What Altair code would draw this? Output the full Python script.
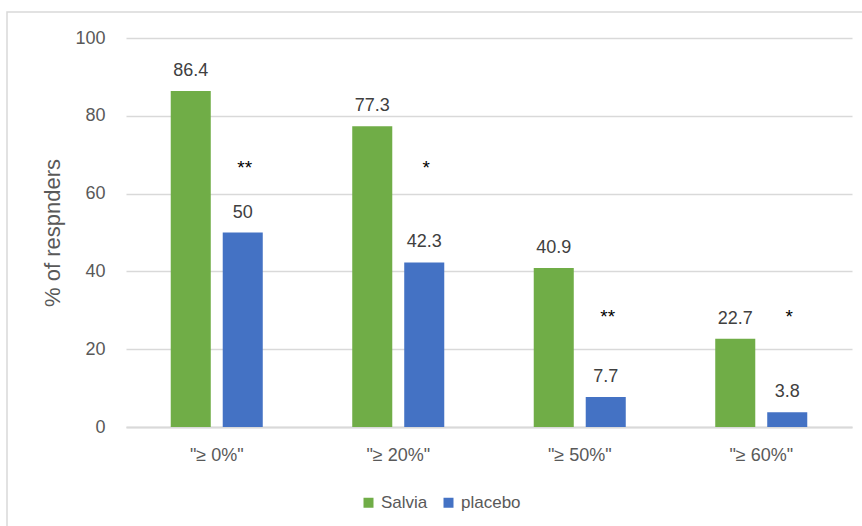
import altair as alt
import pandas as pd

categories = ['"≥ 0%"', '"≥ 20%"', '"≥ 50%"', '"≥ 60%"']
salvia = [86.4, 77.3, 40.9, 22.7]
placebo = [50, 42.3, 7.7, 3.8]
stars = ["**", "*", "**", "*"]
star_y = [66.5, 66.5, 28.2, 28.2]
groups = ["Salvia", "placebo"]
colors = ["#70AD47", "#4472C4"]

rows = []
for c, s, p in zip(categories, salvia, placebo):
    rows.append({"cat": c, "group": "Salvia", "value": s, "label": f"{s:g}"})
    rows.append({"cat": c, "group": "placebo", "value": p, "label": f"{p:g}"})
df = pd.DataFrame(rows)
sdf = pd.DataFrame({"cat": categories, "group": ["placebo"] * 4, "star": stars, "y": star_y})

FONT = "Liberation Sans"

xenc = alt.X("cat:N", sort=categories, title=None,
             scale=alt.Scale(paddingInner=0.493, paddingOuter=0.2465),
             axis=alt.Axis(labelAngle=0, labelFontSize=18, labelColor="#595959",
                           labelPadding=19, ticks=False, domainColor="#d9d9d9",
                           domainWidth=2, labelFont=FONT))
xoff = alt.XOffset("group:N", sort=groups,
                   scale=alt.Scale(paddingInner=0.23, paddingOuter=0))
yscale = alt.Scale(domain=[0, 100])

bars = alt.Chart(df).mark_bar().encode(
    x=xenc,
    xOffset=xoff,
    y=alt.Y("value:Q", scale=yscale, title="% of respnders",
            axis=alt.Axis(values=[0, 20, 40, 60, 80, 100], domain=False, ticks=False,
                          labelFontSize=18, labelColor="#595959", labelPadding=21,
                          gridColor="#d9d9d9", gridWidth=1.5,
                          titleFontSize=22, titleColor="#595959", titleFontWeight="normal",
                          titlePadding=10, titleFont=FONT, labelFont=FONT)),
    color=alt.Color("group:N", sort=groups, scale=alt.Scale(domain=groups, range=colors),
                    legend=alt.Legend(title=None, orient="none", direction="horizontal",
                                      legendX=234, legendY=456, symbolType="square",
                                      symbolSize=100, symbolStrokeWidth=0,
                                      labelFontSize=17, labelColor="#595959",
                                      labelFont=FONT, columnPadding=12, labelOffset=4)),
)

labels = alt.Chart(df).mark_text(baseline="alphabetic", dy=-15, fontSize=18,
                                 color="#404040", font=FONT).encode(
    x=alt.X("cat:N", sort=categories),
    xOffset=alt.XOffset("group:N", sort=groups),
    y=alt.Y("value:Q", scale=yscale),
    text="label:N",
)

star_txt = alt.Chart(sdf).mark_text(baseline="middle", fontSize=19, dx=2,
                                    color="#000000", font=FONT).encode(
    x=alt.X("cat:N", sort=categories),
    xOffset=alt.XOffset("group:N", sort=groups),
    y=alt.Y("y:Q", scale=yscale),
    text="star:N",
)

frame = alt.Chart(alt.Data(values=[{}])).mark_rect(
    fill="transparent", stroke="#d9d9d9", strokeWidth=1.5).encode(
    x=alt.value(7 - 126), y=alt.value(12 - 38), x2=alt.value(900), y2=alt.value(600))

chart = alt.layer(frame, bars, labels, star_txt).resolve_scale(x="shared").properties(
    width=726, height=389,
    autosize=alt.AutoSizeParams(type="none"),
    padding={"left": 126, "top": 38, "right": 10, "bottom": 99},
    background="white",
).configure_view(stroke=None)

chart.save("out.html", embed_options={"renderer": "svg", "actions": False})
